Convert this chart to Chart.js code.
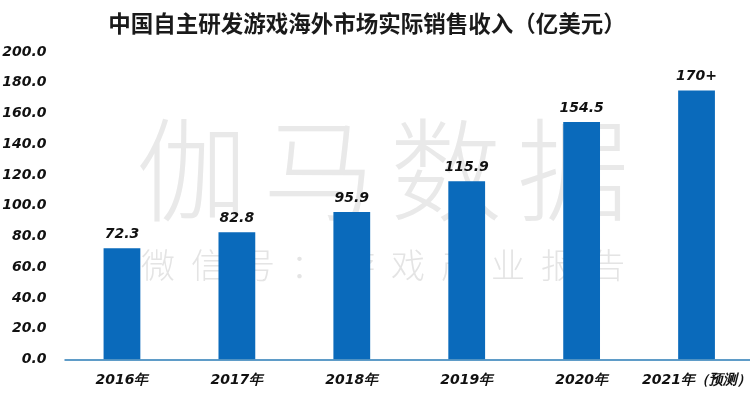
<!DOCTYPE html>
<html>
<head>
<meta charset="utf-8">
<script src="https://cdn.jsdelivr.net/npm/chart.js@4/dist/chart.umd.min.js"></script>
<style>
html,body{margin:0;padding:0;background:#fff;overflow:hidden;width:750px;height:398px;}
#wrap{position:absolute;left:0;top:0;width:754px;height:398px;}
</style>
</head>
<body>
<div id="wrap"><canvas id="c" width="754" height="398"></canvas></div>
<script>
const titleText = '中国自主研发游戏海外市场实际销售收入（亿美元）';
const categories = ['2016年', '2017年', '2018年', '2019年', '2020年', '2021年（预测）'];
const values = [72.3, 82.8, 95.9, 115.9, 154.5, 175];
const valueLabels = ['72.3', '82.8', '95.9', '115.9', '154.5', '170+'];
const yTicks = [0, 20, 40, 60, 80, 100, 120, 140, 160, 180, 200];
const watermarkMain = ['伽', '马', '数', '据'];
const watermarkSub = ['微', '信', '号', '：', '游', '戏', '产', '业', '报', '告'];

const numFont = 'italic bold 14px "DejaVu Sans", sans-serif';

const decor = {
  id: 'decor',
  beforeDatasetsDraw(chart) {
    const ctx = chart.ctx;
    ctx.save();
    ctx.fillStyle = '#e9e9e9';
    ctx.textAlign = 'center';
    ctx.textBaseline = 'middle';
    ctx.font = '300 112px "Noto Sans CJK SC", sans-serif';
    watermarkMain.forEach((ch, i) => ctx.fillText(ch, 192 + i * 127, 170));
    ctx.fillStyle = '#e4e4e4';
    ctx.font = '300 34px "Noto Sans CJK SC", sans-serif';
    watermarkSub.forEach((ch, i) => ctx.fillText(ch, 158 + i * 50, 265));
    ctx.restore();
  },
  afterDatasetsDraw(chart) {
    const ctx = chart.ctx;
    const meta = chart.getDatasetMeta(0);
    ctx.save();
    ctx.fillStyle = '#111';
    ctx.font = numFont;
    ctx.textAlign = 'center';
    ctx.textBaseline = 'bottom';
    meta.data.forEach((bar, i) => {
      ctx.fillText(valueLabels[i], bar.x, bar.y - 7);
    });
    const a = chart.chartArea;
    ctx.strokeStyle = '#2a7bb6';
    ctx.lineWidth = 1.5;
    ctx.beginPath();
    ctx.moveTo(a.left, chart.scales.y.getPixelForValue(0) + 0.5);
    ctx.lineTo(a.right, chart.scales.y.getPixelForValue(0) + 0.5);
    ctx.stroke();
    ctx.fillStyle = '#1a1a1a';
    ctx.font = 'bold 22.5px "Noto Sans CJK SC", sans-serif';
    ctx.textBaseline = 'middle';
    ctx.fillText(titleText, 367, 23);
    ctx.restore();
  }
};

new Chart(document.getElementById('c'), {
  type: 'bar',
  data: {
    labels: categories,
    datasets: [{
      data: values,
      backgroundColor: '#0a6abb',
      barPercentage: 0.32,
      categoryPercentage: 1.0
    }]
  },
  options: {
    responsive: false,
    animation: false,
    layout: { padding: { top: 52, right: 0, bottom: 0, left: 0 } },
    plugins: { legend: { display: false }, tooltip: { enabled: false }, title: { display: false } },
    scales: {
      x: {
        grid: { display: false, drawTicks: false },
        border: { display: false },
        ticks: { color: '#111', font: { family: '"DejaVu Sans", sans-serif', size: 14, weight: 'bold', style: 'italic' }, padding: 12, maxRotation: 0, autoSkip: false },
        afterFit(s) { s.height = 38.5; s.paddingRight = 0; s.paddingLeft = 0; }
      },
      y: {
        min: 0, max: 200,
        afterBuildTicks(s) { s.ticks = yTicks.map(v => ({ value: v })); },
        grid: { display: false, drawTicks: false },
        border: { display: false },
        ticks: { color: '#111', font: { family: '"DejaVu Sans", sans-serif', size: 14, weight: 'bold', style: 'italic' }, padding: 18, callback: v => v.toFixed(1) },
        afterFit(s) { s.width = 64.5; }
      }
    }
  },
  plugins: [decor]
});
</script>
</body>
</html>
